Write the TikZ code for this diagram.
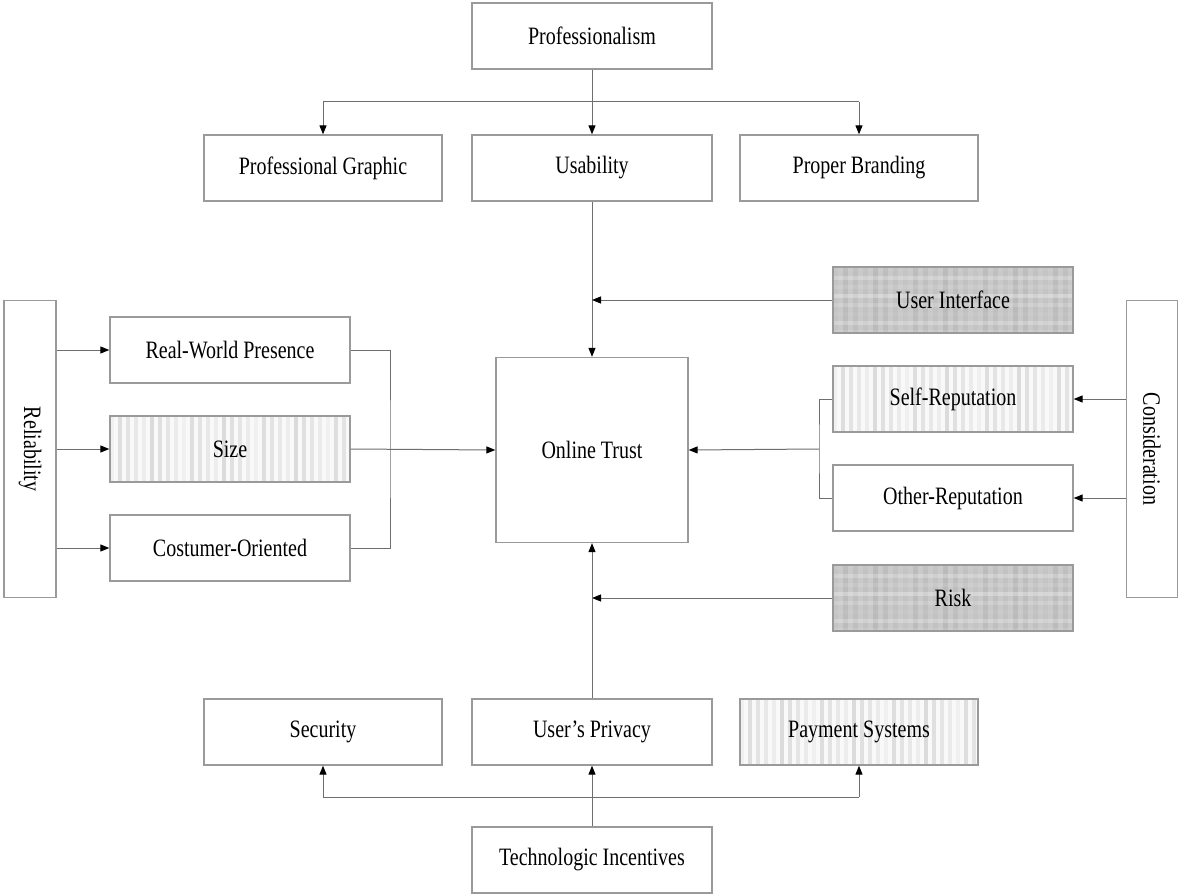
\documentclass[tikz,border=0pt]{standalone}
\usepackage{fontspec}
\setmainfont{Liberation Serif}
\usetikzlibrary{arrows.meta,calc}
\definecolor{bord}{HTML}{9A9A9A}
\definecolor{conn}{HTML}{6E6E6E}
\newcommand{\vtxt}[1]{\scalebox{1}[1.25]{#1}}
\tikzset{
  box/.style={draw=bord, line width=1.3pt, fill=white, minimum width=238pt, minimum height=66pt, inner sep=0pt,
    font=\fontsize{20}{24}\selectfont},
  side/.style={draw=bord, line width=1.3pt, fill=white, minimum width=297pt, minimum height=52pt, inner sep=0pt,
    font=\fontsize{20}{24}\selectfont, rotate=-90},
  stripes/.style={path picture={
      \foreach \i in {0,...,29}{
        \pgfmathsetmacro\g{int(6+mod(\i*7,9))}
        \fill[black!\g] ($(path picture bounding box.north west)+(\i*8pt,0)$) rectangle ++(4pt,-80pt);
      }}},
  plaid/.style={fill=gray!42, path picture={
      \foreach \i in {0,...,24}{
        \pgfmathsetmacro\g{int(mod(\i*5,7))}
        \fill[black!55,opacity=0.12*\g/6+0.05] ($(path picture bounding box.north west)+(\i*10pt,0)$) rectangle ++(5pt,-80pt);
      }
      \foreach \j in {0,...,7}{
        \pgfmathsetmacro\g{int(mod(\j*3,5))}
        \fill[white,opacity=0.06*\g+0.05] ($(path picture bounding box.north west)+(0,-\j*9pt)$) rectangle ++(260pt,-4pt);
      }}},
  arr/.style={draw=conn, line width=1pt, -{Triangle[length=9pt,width=7pt,fill=black,color=black]}},
  ln/.style={draw=conn, line width=1pt},
  lbl/.style={font=\fontsize{20}{24}\selectfont},
}
\begin{document}
\begin{tikzpicture}[x=1pt,y=-1pt]
\useasboundingbox (0,0) rectangle (1181,896);
\fill[white] (0,0) rectangle (1181,896);

\node[box, minimum width=240pt] (prof) at (592,36) {\vtxt{Professionalism}};
\node[box] (pg) at (323,168) {\vtxt{Professional Graphic}};
\node[box, minimum width=240pt] (usab) at (592,168) {\vtxt{Usability}};
\node[box] (pb) at (859,168) {\vtxt{Proper Branding}};

\node[box, minimum width=240pt, plaid] (ui) at (953,300) {};
\node[lbl] (uit) at (ui) {\vtxt{User Interface}};

\node[box, minimum width=192pt, minimum height=185pt] (trust) at (592,450) {\vtxt{Online Trust}};

\node[side] (rel) at (30,449) {\vtxt{Reliability}};
\node[box, minimum width=240pt] (rwp) at (230,350) {\vtxt{Real-World Presence}};
\node[box, minimum width=240pt, fill=gray!5, stripes] (size) at (230,449) {};
\node[lbl] (sizet) at (size) {\vtxt{Size}};
\node[box, minimum width=240pt] (co) at (230,548) {\vtxt{Costumer-Oriented}};

\node[side, minimum height=51pt] (cons) at (1152,449) {\vtxt{Consideration}};
\node[box, minimum width=240pt, fill=gray!5, stripes] (sr) at (953,399) {};
\node[lbl] (srt) at (sr) {\vtxt{Self-Reputation}};
\node[box, minimum width=240pt] (or) at (953,498) {\vtxt{Other-Reputation}};

\node[box, minimum width=240pt, plaid] (risk) at (953,598) {};
\node[lbl] (riskt) at (risk) {\vtxt{Risk}};

\node[box] (sec) at (323,732) {\vtxt{Security}};
\node[box, minimum width=240pt] (up) at (592,732) {\vtxt{User's Privacy}};
\node[box, fill=gray!5, stripes] (pay) at (859,732) {};
\node[lbl] (payt) at (pay) {\vtxt{Payment Systems}};
\node[box, minimum width=240pt] (ti) at (592,860) {\vtxt{Technologic Incentives}};

% top
\coordinate (jtl) at (323,102);
\coordinate (jtr) at (859,102);
\draw[ln] (jtl) -- (jtr);
\draw[arr] (prof.south) -- (usab.north);
\draw[arr] (jtl) -- (pg.north);
\draw[arr] (jtr) -- (pb.north);

\draw[arr] (usab.south) -- (trust.north);
\coordinate (uij) at (592,300);
\draw[arr] (ui.west) -- (uij);

% left (rotated -90: north anchor faces east)
\draw[arr] (rel.north |- rwp) -- (rwp.west);
\draw[arr] (rel.north |- size) -- (size.west);
\draw[arr] (rel.north |- co) -- (co.west);
\coordinate (brl) at (390,449);
\draw[ln] (rwp.east) -| (brl) |- (co.east);
\draw[arr] (size.east) -- (trust.west);

% right (rotated -90: south anchor faces west)
\draw[arr] (cons.south |- sr) -- (sr.east);
\draw[arr] (cons.south |- or) -- (or.east);
\coordinate (brr) at (819,449);
\draw[ln] (sr.west) -| (brr) |- (or.west);
\draw[arr] (brr) -- (trust.east);

\coordinate (rj) at (592,598);
\draw[arr] (risk.west) -- (rj);
\draw[arr] (up.north) -- (trust.south);

% bottom
\coordinate (jbl) at (323,797);
\coordinate (jbr) at (859,797);
\draw[ln] (jbl) -- (jbr);
\draw[arr] (ti.north) -- (up.south);
\draw[arr] (jbl) -- (sec.south);
\draw[arr] (jbr) -- (pay.south);
\end{tikzpicture}
\end{document}
